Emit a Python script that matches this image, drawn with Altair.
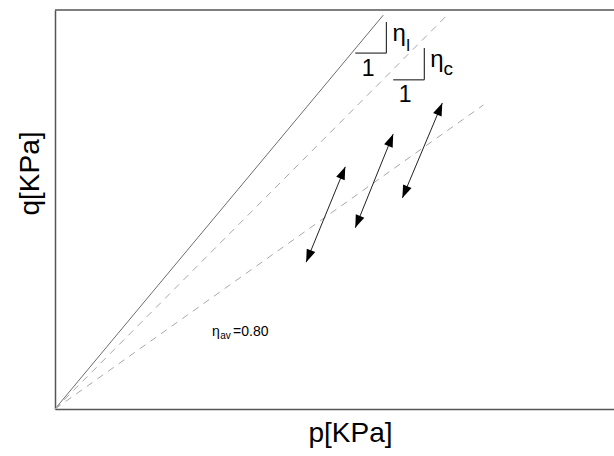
import math
import altair as alt
import pandas as pd

P_MAX = 140
Q_MAX = 100

# Lines through the origin (end points in p, q)
ref_names = ["eta_l", "eta_c", "eta_av"]
ref_end_p = [82.2, 98.2, 107.3]
ref_end_q = [98.7, 98.7, 76.2]
ref_kind = ["solid", "dashed", "dashed"]

# Double-headed stress-path arrows (start -> end)
arrow_p1 = [62.9, 75.2, 87.0]
arrow_q1 = [36.8, 45.4, 52.9]
arrow_p2 = [72.7, 84.7, 97.0]
arrow_q2 = [60.7, 68.9, 76.7]

# Slope triangles: corner, run and rise
tri_corner_p = [83.0, 92.5]
tri_corner_q = [89.2, 82.5]
tri_run = [7.8, 7.8]
tri_rise = [7.8, 8.0]

# Annotation texts
lab_text = ["η", "l", "η", "c", "η", "av", "=0.80"]
lab_p = [84.5, 88.0, 94.0, 97.3, 39.3, 41.4, 44.6]
lab_q = [92.2, 89.6, 85.6, 83.7, 18.3, 17.6, 18.3]
lab_fs = [24, 17, 24, 19, 14, 10, 14]

one_text = ["1", "1"]
one_p = [78.4, 87.7]
one_q = [83.5, 77.0]
one_fs = [23, 23]

FONT = "Liberation Sans"

xs = alt.Scale(domain=[0, P_MAX], nice=False, zero=True)
ys = alt.Scale(domain=[0, Q_MAX], nice=False, zero=True)

x_axis = alt.Axis(title="p[KPa]", ticks=False, labels=False, grid=False,
                  domainColor="#555555", domainWidth=1.5,
                  titleFont=FONT, titleFontSize=28, titleFontWeight="normal",
                  titleColor="#000000", titleX=295, titleY=32,
                  titleAlign="center", titleBaseline="alphabetic")
y_axis = alt.Axis(title="q[KPa]", ticks=False, labels=False, grid=False,
                  domainColor="#555555", domainWidth=1.5,
                  titleFont=FONT, titleFontSize=28, titleFontWeight="normal",
                  titleColor="#000000", titleX=-17, titleY=163,
                  titleAlign="center", titleBaseline="alphabetic")


def X(f):
    return alt.X(f, type="quantitative", scale=xs, axis=x_axis)


def Y(f):
    return alt.Y(f, type="quantitative", scale=ys, axis=y_axis)


ref_df = pd.DataFrame({"name": ref_names, "p0": [0.0] * 3, "q0": [0.0] * 3,
                       "p": ref_end_p, "q": ref_end_q, "kind": ref_kind})

solid = alt.Chart(ref_df[ref_df.kind == "solid"]).mark_rule(
    color="#6e6e6e", strokeWidth=1
).encode(x=X("p0"), y=Y("q0"), x2="p", y2="q")

dashed = alt.Chart(ref_df[ref_df.kind == "dashed"]).mark_rule(
    color="#a8a8a8", strokeWidth=1, strokeDash=[7, 6]
).encode(x=X("p0"), y=Y("q0"), x2="p", y2="q")

arr_df = pd.DataFrame({"p": arrow_p1, "q": arrow_q1, "p2": arrow_p2, "q2": arrow_q2})
arr_df["ang"] = [math.degrees(math.atan2(a2 - a1, b2 - b1))
                 for a1, b1, a2, b2 in zip(arrow_p1, arrow_q1, arrow_p2, arrow_q2)]

arrow_lines = alt.Chart(arr_df).mark_rule(color="#222222", strokeWidth=1).encode(
    x=X("p"), y=Y("q"), x2="p2", y2="q2")

HEAD = "M0,0 L0.36,1 L-0.36,1 Z"
heads_df = pd.DataFrame({
    "p": list(arr_df.p2) + list(arr_df.p),
    "q": list(arr_df.q2) + list(arr_df.q),
    "ang": list(arr_df.ang) + [a + 180 for a in arr_df.ang],
})
heads = alt.Chart(heads_df).mark_point(
    shape=HEAD, filled=True, color="#000000", size=650, opacity=1, strokeWidth=0
).encode(x=X("p"), y=Y("q"), angle=alt.Angle("ang:Q", scale=None))

h_df = pd.DataFrame({"p": [c - r for c, r in zip(tri_corner_p, tri_run)],
                     "q": tri_corner_q, "p2": tri_corner_p, "q2": tri_corner_q})
v_df = pd.DataFrame({"p": tri_corner_p, "q": tri_corner_q, "p2": tri_corner_p,
                     "q2": [c + r for c, r in zip(tri_corner_q, tri_rise)]})
tri = alt.Chart(pd.concat([h_df, v_df])).mark_rule(color="#333333", strokeWidth=1.2).encode(
    x=X("p"), y=Y("q"), x2="p2", y2="q2")

lab_df = pd.DataFrame({"p": lab_p, "q": lab_q, "t": lab_text, "fs": lab_fs})
labels = alt.Chart(lab_df).mark_text(
    align="left", baseline="alphabetic", font=FONT, color="#000000"
).encode(x=X("p"), y=Y("q"), text="t:N", size=alt.Size("fs:Q", scale=None))

one_df = pd.DataFrame({"p": one_p, "q": one_q, "t": one_text, "fs": one_fs})
ones = alt.Chart(one_df).mark_text(
    align="center", baseline="alphabetic", font=FONT, color="#000000"
).encode(x=X("p"), y=Y("q"), text="t:N", size=alt.Size("fs:Q", scale=None))

top_df = pd.DataFrame({"q": [Q_MAX]})
top = alt.Chart(top_df).mark_rule(color="#555555", strokeWidth=1.5).encode(
    y=Y("q"), x=alt.value(0), x2=alt.value(560))

chart = alt.layer(top, solid, dashed, arrow_lines, heads, tri, labels, ones).properties(
    width=559, height=399,
    autosize=alt.AutoSizeParams(type="none"),
    padding={"left": 55, "top": 10, "right": 0, "bottom": 47},
).configure_view(stroke=None)

chart.save("out.html", embed_options={"renderer": "svg", "actions": False})
